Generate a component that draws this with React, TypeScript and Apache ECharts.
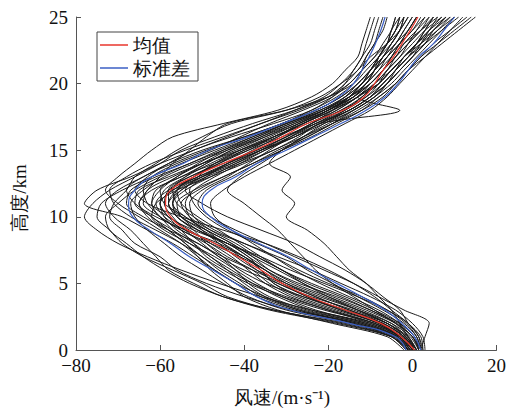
import React, { useEffect, useRef } from "react";
import * as echarts from "echarts";

// heights (km)
const HEIGHTS = [0, 1, 2, 3, 4, 5, 6, 7, 8, 9, 10, 11, 12, 13, 14, 15, 16, 17, 18, 19, 20, 21, 22, 23, 24, 25];

// mean and mean±std (m/s)
const MEAN = [0.5, -2.7, -7.5, -16, -24.5, -31, -36, -41.5, -47, -53.5, -57.5, -58.7, -57.5, -52, -45, -37.5, -31, -25, -16.5, -11.5, -9, -7, -4.5, -2.5, -0.5, 1.3];
const STD_LOW = [-1.5, -4, -15, -29, -37, -42, -47.5, -53, -57.5, -62.5, -66.5, -67.5, -66, -62, -54.5, -48.5, -39, -31, -23, -17.5, -14, -12, -10.3, -8.8, -7.5, -6.5];
const STD_HIGH = [2, 0.5, -2.5, -6.5, -12, -18, -24, -29.5, -36.5, -43, -48, -50, -48, -42, -37, -30, -23.5, -17, -11, -6.5, -3.4, -1, 1.5, 5, 7.5, 10];

// individual wind profiles (m/s at each height)
const P01 = [-1.5, -5, -17, -33, -45, -52, -58, -61, -64, -67, -71, -73, -70, -64, -58, -50, -40, -31, -24, -18, -14, -12, -11, -9, -8, -7];
const P02 = [2, 1, -2, -7, -13, -19, -25, -30, -37, -44, -49, -52, -53, -49, -44, -38, -32, -27, -20, -14, -11, -9, -8, -6, -4, -3];
const P03 = [0, -3, -8, -17, -26, -33, -36, -40, -46, -54, -59, -61, -58, -51, -43, -36, -28, -22, -15, -10, -7, -4, -1, 1, 3, 5];
const P04 = [-1, -4, -14, -28, -37, -42, -47, -52, -57, -63, -69, -78, -75, -67, -60, -52, -44, -36, -27, -20, -16, -13, -10, -6, -3, -1];
const P05 = [2.5, 2, -1, -5, -9, -14, -20, -27, -35, -45, -55, -63, -66, -63, -58, -52, -43, -33, -24, -19, -16, -14, -12, -11, -10, -9];
const P06 = [1, -1, -3, -5, -8, -11, -15, -18, -21, -25, -30, -28, -31, -29, -34, -31, -26, -21, -15, -10, -6, -3, 0, 3, 6, 9];
const P07 = [1.5, 0, -4, -9, -14, -19, -23, -26, -29, -32, -36, -40, -44, -41, -36, -31, -26, -20, -14, -9, -5, -2, 1, 4, 7, 10];
const P08 = [0.5, -2, -6, -13, -21, -29, -35, -40, -45, -51, -55, -57, -55, -49, -41, -33, -27, -22, -3, -13, -8, -5, -2, 2, 6, 10];
const P09 = [-0.5, -3, -10, -24, -36, -46, -55, -63, -70, -75, -78, -76, -72, -66, -60, -55, -47, -38, -28, -20, -15, -12, -9, -7, -5, -4];
const P10 = [3, 2.5, 0, -4, -10, -17, -24, -32, -40, -48, -53, -55, -51, -45, -38, -31, -24, -18, -12, -8, -4, -1, 2, 5, 9, 13];
const P11 = [-1, -3.5, -11, -24, -32, -38, -43, -48, -52, -57, -62, -65, -63, -60, -57, -53, -49, -44, -30, -20, -14, -11, -8, -5, -3, -2];
const P12 = [1, -1.5, -5, -12, -20, -28, -34, -38, -43, -49, -54, -57, -56, -52, -46, -40, -32, -26, -19, -14, -11, -8, -6, -3, 0, 2];
const P13 = [-2, -6, -19, -32, -40, -44, -48, -51, -54, -58, -62, -61, -56, -48, -40, -33, -26, -19, -12, -7, -4, -1, 3, 7, 11, 15];
const P14 = [0, -2.5, -9, -19, -28, -34, -38, -44, -49, -55, -60, -64, -63, -57, -50, -42, -35, -28, -21, -16, -13, -10, -7, -4, -2, 0];
const P15 = [2, 0.5, -3, -8, -15, -22, -28, -33, -38, -43, -47, -48, -45, -40, -34, -28, -22, -16, -10, -6, -3, 0, 3, 6, 9, 12];
const P16 = [-0.5, -3.5, -12, -25, -34, -39, -42, -46, -51, -58, -64, -68, -67, -61, -53, -46, -38, -30, -22, -15, -11, -9, -6, -4, -1, 1];
const P17 = [1.5, -0.5, -5, -13, -22, -30, -37, -42, -46, -50, -53, -54, -52, -47, -41, -35, -29, -23, -17, -12, -9, -6, -4, -1, 2, 4];
const P18 = [-1, -4.5, -13, -27, -36, -41, -46, -50, -55, -61, -67, -71, -72, -68, -62, -54, -45, -36, -28, -21, -17, -14, -12, -10, -9, -8];
const P19 = [0.5, -2, -7, -15, -23, -31, -38, -45, -51, -56, -59, -60, -59, -54, -48, -41, -33, -25, -18, -13, -9, -6, -3, -1, 1, 3];
const P20 = [2, 1, -1.5, -6, -12, -20, -27, -33, -40, -47, -52, -56, -57, -54, -49, -43, -36, -29, -21, -15, -10, -7, -5, -3, -1, 1];
const P21 = [-1, -4, -15, -30, -39, -45, -50, -55, -59, -63, -66, -67, -64, -59, -52, -44, -36, -28, -20, -14, -10, -7, -4, -1, 2, 5];
const P22 = [1, -1, -4, -10, -17, -25, -31, -37, -42, -48, -52, -53, -50, -44, -39, -34, -29, -24, -19, -15, -12, -10, -8, -6, -5, -3];
const P23 = [0, -3, -10, -20, -29, -35, -39, -43, -48, -53, -58, -62, -61, -55, -47, -39, -31, -23, -15, -10, -6, -3, 0, 2, 4, 6];
const P24 = [2.5, 1.5, -1, -6, -13, -21, -29, -36, -44, -51, -56, -58, -55, -50, -44, -37, -30, -24, -17, -11, -7, -4, -1, 3, 7, 11];
const P25 = [-1.5, -5, -16, -33, -44, -50, -57, -64, -69, -72, -75, -74, -69, -62, -55, -47, -39, -31, -23, -17, -13, -10, -8, -6, -4, -3];
const P26 = [1, -1, -6, -14, -24, -32, -37, -41, -45, -49, -54, -59, -60, -56, -50, -44, -37, -30, -22, -16, -12, -9, -6, -3, 0, 3];
const P27 = [0, -2.5, -8, -18, -27, -33, -36, -39, -44, -51, -56, -57, -54, -48, -42, -36, -30, -23, -16, -11, -8, -6, -3, 0, 3, 7];
const P28 = [-1, -4, -12, -26, -35, -42, -47, -51, -55, -60, -65, -70, -73, -70, -66, -62, -57, -45, -32, -24, -19, -16, -13, -12, -11, -10];
const P29 = [1.5, 0, -4, -11, -19, -26, -32, -38, -43, -49, -55, -56, -52, -45, -38, -32, -25, -19, -13, -8, -4, -1, 2, 6, 10, 14];
const P30 = [0.5, -2, -7, -16, -25, -32, -40, -46, -50, -54, -57, -59, -58, -53, -46, -39, -33, -26, -19, -13, -10, -7, -5, -3, -1, 1];
const P31 = [-0.5, -3.5, -11, -23, -31, -37, -42, -47, -53, -59, -63, -65, -62, -55, -49, -43, -35, -27, -20, -15, -12, -9, -7, -5, -3, -1];
const P32 = [2, 3, 4, -2, -8, -14, -21, -28, -35, -42, -48, -51, -49, -43, -37, -31, -25, -19, -14, -9, -6, -3, 0, 3, 5, 8];
const P33 = [1, -1.5, -6, -15, -23, -30, -35, -41, -48, -55, -60, -62, -60, -56, -51, -45, -38, -30, -21, -14, -10, -7, -4, -2, 1, 4];
const P34 = [-0.5, -3, -9, -20, -30, -38, -44, -49, -52, -55, -58, -60, -57, -51, -44, -36, -28, -21, -14, -9, -6, -4, -2, 1, 4, 8];
const P35 = [1.5, 0.5, -3, -9, -16, -24, -31, -36, -41, -46, -51, -55, -56, -52, -47, -41, -34, -27, -20, -15, -12, -9, -7, -4, -2, 0];
const P36 = [0, -2.5, -8, -17, -25, -31, -35, -40, -47, -54, -61, -66, -68, -64, -57, -49, -40, -31, -23, -17, -13, -10, -7, -5, -3, -2];
const P37 = [2, 0, -3.5, -10, -18, -27, -34, -39, -44, -52, -58, -60, -57, -50, -42, -35, -28, -22, -15, -10, -7, -4, -1, 2, 5, 9];
const P38 = [-1, -5, -14, -27, -35, -40, -44, -48, -53, -57, -60, -63, -64, -62, -56, -48, -41, -34, -26, -19, -15, -12, -9, -6, -4, -2];
const P39 = [0.5, -1.5, -6, -13, -20, -26, -31, -37, -44, -50, -55, -58, -58, -53, -45, -37, -30, -24, -18, -13, -9, -5, -2, 1, 4, 7];
const P40 = [1, -2, -7, -16, -26, -35, -41, -45, -49, -52, -56, -58, -56, -50, -43, -36, -29, -22, -16, -12, -8, -5, -2, 1, 3, 5];
const P41 = [-1, -5, -18, -34, -45, -53, -59, -64, -68, -72, -73, -70, -66, -60, -53, -45, -37, -29, -21, -16, -12, -10, -8, -6, -5, -4];
const P42 = [-0.5, -4, -13, -29, -40, -49, -56, -60, -66, -69, -72, -71, -68, -66, -61, -56, -50, -43, -30, -22, -17, -13, -11, -9, -7, -6];
const P43 = [2, 1.5, -1, -3, -7, -11, -16, -22, -28, -36, -44, -50, -54, -51, -47, -40, -33, -26, -19, -13, -8, -5, -2, 1, 5, 8];
const P44 = [0.5, -2.5, -9, -21, -31, -39, -45, -50, -54, -58, -62, -66, -65, -58, -50, -41, -33, -26, -20, -15, -11, -8, -5, -2, 2, 6];

const PROFILES = [P01, P02, P03, P04, P05, P06, P07, P08, P09, P10, P11, P12, P13, P14, P15, P16, P17, P18, P19, P20,
  P21, P22, P23, P24, P25, P26, P27, P28, P29, P30, P31, P32, P33, P34, P35, P36, P37, P38, P39, P40, P41, P42, P43, P44];

const X_TICKS = [-80, -60, -40, -20, 0, 20];
const Y_TICKS = [0, 5, 10, 15, 20, 25];

const SERIF = "Liberation Serif";
const RED = "#e8362c";
const BLUE = "#3b5fc4";

const toPairs = (xs: number[]) => xs.map((x, i) => [x, HEIGHTS[i]]);

export default function App() {
  const ref = useRef<HTMLDivElement>(null);
  useEffect(() => {
    if (!ref.current) return;
    const chart = echarts.init(ref.current, null, { renderer: "svg" });
    const blackSeries = PROFILES.map((p, i) => ({
      name: "profile" + (i + 1),
      type: "line",
      data: toPairs(p),
      symbol: "none",
      smooth: 0.3,
      color: "#1a1a1a",
      lineStyle: { color: "#1a1a1a", width: 1 },
      z: 2,
      silent: true,
    }));
    chart.setOption({
      animation: false,
      grid: { left: 76, right: 10, top: 17, bottom: 58, containLabel: false },
      legend: {
        data: [
          { name: "均值", icon: "rect" },
          { name: "标准差", icon: "rect" },
        ],
        left: 97,
        top: 32,
        orient: "vertical",
        borderColor: "#444",
        borderWidth: 1,
        padding: [3, 8, 3, 3],
        itemGap: 3,
        itemWidth: 28,
        itemHeight: 1.5,
        selectedMode: false,
        textStyle: { fontFamily: SERIF, fontSize: 19, color: "#111", lineHeight: 20 },
      },
      xAxis: {
        type: "value",
        min: X_TICKS[0],
        max: X_TICKS[X_TICKS.length - 1],
        interval: 20,
        axisLine: { show: true, onZero: false, lineStyle: { color: "#555", width: 1 } },
        axisTick: { show: true, inside: true, length: 5, lineStyle: { color: "#555" } },
        splitLine: { show: false },
        axisLabel: {
          margin: 8,
          fontFamily: SERIF,
          fontSize: 19,
          lineHeight: 14,
          color: "#111",
          formatter: (v: number) => String(v).replace("-", "\u2212"),
        },
      },
      yAxis: {
        type: "value",
        min: Y_TICKS[0],
        max: Y_TICKS[Y_TICKS.length - 1],
        interval: 5,
        axisLine: { show: true, onZero: false, lineStyle: { color: "#555", width: 1 } },
        axisTick: { show: true, inside: true, length: 5, lineStyle: { color: "#555" } },
        splitLine: { show: false },
        axisLabel: { margin: 8, fontFamily: SERIF, fontSize: 19, lineHeight: 14, color: "#111" },
      },
      graphic: [
        {
          type: "text",
          x: 19,
          y: 198,
          rotation: Math.PI / 2,
          style: {
            text: "高度/km",
            fontFamily: SERIF,
            fontSize: 19,
            fill: "#111",
            textAlign: "center",
            textVerticalAlign: "middle",
          },
        },
        {
          type: "text",
          x: 282,
          y: 397,
          style: {
            text: "风速/(m·s⁻¹)",
            fontFamily: SERIF,
            fontSize: 19,
            fill: "#111",
            textAlign: "center",
            textVerticalAlign: "middle",
          },
        },
      ],
      series: [
        ...blackSeries,
        {
          name: "标准差",
          type: "line",
          data: toPairs(STD_LOW),
          symbol: "none",
          smooth: 0.5,
          color: BLUE,
          lineStyle: { color: BLUE, width: 1.2 },
          z: 3,
        },
        {
          name: "标准差",
          type: "line",
          data: toPairs(STD_HIGH),
          symbol: "none",
          smooth: 0.5,
          color: BLUE,
          lineStyle: { color: BLUE, width: 1.2 },
          z: 3,
        },
        {
          name: "均值",
          type: "line",
          data: toPairs(MEAN),
          symbol: "none",
          smooth: 0.5,
          color: RED,
          lineStyle: { color: RED, width: 1.2 },
          z: 4,
        },
      ],
    });
    return () => chart.dispose();
  }, []);
  return (
    <div
      ref={ref}
      style={{ position: "fixed", left: 0, top: 0, width: 509, height: 408, background: "#fff" }}
    />
  );
}
